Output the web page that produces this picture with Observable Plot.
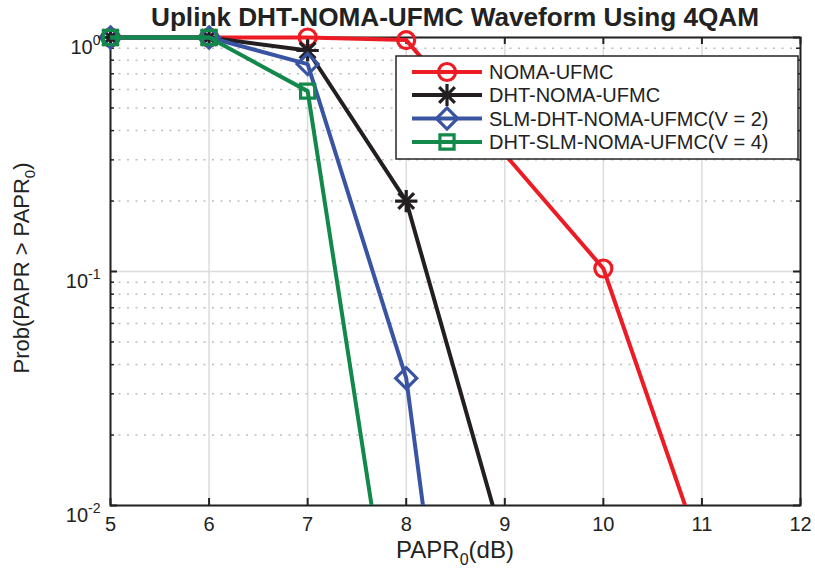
<!DOCTYPE html>
<html><head><meta charset="utf-8">
<script src="https://cdn.jsdelivr.net/npm/d3@7"></script>
<script src="https://cdn.jsdelivr.net/npm/@observablehq/plot@0.6"></script>
<style>
body{margin:0;background:#fff;}
#chart svg{font-family:"Liberation Sans",Arial,Helvetica,sans-serif;}
</style>
</head><body><div id="chart"></div>
<script>
// ---- data ----
const titleText = "Uplink DHT-NOMA-UFMC Waveform Using 4QAM";
const seriesNames = ["NOMA-UFMC","DHT-NOMA-UFMC","SLM-DHT-NOMA-UFMC(V = 2)","DHT-SLM-NOMA-UFMC(V = 4)"];
const seriesColors = ["#ed1c24","#231f20","#3a54a4","#12894a"];
const nomaUfmcX = [5,6,7,8,10,11];
const nomaUfmcY = [1,1,1,0.975,0.103,0.0062];
const dhtNomaX = [5,6,7,8,9];
const dhtNomaY = [1,1,0.88,0.2,0.0066];
const slmDhtX = [5,6,7,8,9];
const slmDhtY = [1,1,0.77,0.035,0.000022];
const dhtSlmX = [5,6,7,8];
const dhtSlmY = [1,1,0.59,0.0011];
const xTicks = [5,6,7,8,9,10,11,12];
const yTicks = [1,0.1,0.01];
const yMinor = [0.02,0.03,0.04,0.05,0.06,0.07,0.08,0.09,0.2,0.3,0.4,0.5,0.6,0.7,0.8,0.9];

// ---- layout ----
const W = 815, H = 569;
const mL = 110, mR = 15, mT = 37, mB = 64;
const fw = W - mL - mR, fh = H - mT - mB;

const series = [
  {xs: nomaUfmcX, ys: nomaUfmcY, symbols: ["circle"], r: 8.5},
  {xs: dhtNomaX, ys: dhtNomaY, symbols: ["plus","times"], r: 7.2},
  {xs: slmDhtX, ys: slmDhtY, symbols: ["diamond2"], r: 9.5},
  {xs: dhtSlmX, ys: dhtSlmY, symbols: ["square2"], r: 9}
].map((s, k) => ({...s, name: seriesNames[k], color: seriesColors[k],
  rows: s.xs.map((x, i) => ({x, y: s.ys[i]}))}));

const marks = [
  Plot.ruleX(xTicks, {x: d => d, stroke: "#dcdcdc", strokeWidth: 1.5}),
  Plot.ruleY(yMinor, {y: d => d, stroke: "#bdbdbd", strokeWidth: 1.5, strokeDasharray: "2,6.5"}),
  Plot.ruleY(yTicks, {y: d => d, stroke: "#dcdcdc", strokeWidth: 1.5}),
  Plot.frame({stroke: "#222", strokeWidth: 2}),
  Plot.tickX(xTicks, {x: d => d, insetTop: fh - 7, stroke: "#222", strokeWidth: 2}),
  Plot.tickX(xTicks, {x: d => d, insetBottom: fh - 7, stroke: "#222", strokeWidth: 2}),
  Plot.tickY(yTicks, {y: d => d, insetRight: fw - 7, stroke: "#222", strokeWidth: 2}),
  Plot.tickY(yTicks, {y: d => d, insetLeft: fw - 7, stroke: "#222", strokeWidth: 2}),
  Plot.tickY(yMinor, {y: d => d, insetRight: fw - 4, stroke: "#222", strokeWidth: 1.5}),
  Plot.tickY(yMinor, {y: d => d, insetLeft: fw - 4, stroke: "#222", strokeWidth: 1.5})
];
for (const s of series) {
  marks.push(Plot.line(s.rows, {x: "x", y: "y", stroke: s.color, strokeWidth: 4, clip: true}));
  for (const sym of s.symbols) {
    marks.push(Plot.dot(s.rows.filter(d => d.y >= 0.01), {x: "x", y: "y", symbol: sym, r: s.r,
      stroke: s.color, strokeWidth: 3.2, fill: "none"}));
  }
}
marks.push(
  Plot.axisX(xTicks, {tickSize: 0, tickPadding: 11, fontSize: 20, fill: "#222", label: null}),
  Plot.axisY(yTicks, {tickSize: 0, tickPadding: 10, fontSize: 20, fill: "#222", label: null,
    tickFormat: d => "10^" + Math.round(Math.log10(d))})
);

const chart = Plot.plot({
  width: W, height: H,
  marginLeft: mL, marginRight: mR, marginTop: mT, marginBottom: mB,
  style: {background: "#fff", overflow: "visible", fontFamily: "Liberation Sans, Arial, sans-serif"},
  x: {domain: [5, 12], label: null},
  y: {type: "log", domain: [0.01, 1], label: null},
  marks
});
document.getElementById("chart").appendChild(chart);

const svg = d3.select(chart);
// let lines at the top edge keep full width
svg.selectAll("clipPath rect").each(function() {
  const r = d3.select(this);
  r.attr("y", +r.attr("y") - 12).attr("height", +r.attr("height") + 12);
});
// superscript tick labels
svg.selectAll('g[aria-label="y-axis tick label"] text').each(function() {
  const t = d3.select(this);
  const parts = t.text().split("^");
  t.text(parts[0]).attr("dy", "0.5em");
  t.append("tspan").attr("font-size", 14).attr("dy", "-0.62em").text(parts[1]);
});
// title
svg.append("text").attr("x", 455).attr("y", 26).attr("text-anchor", "middle")
  .attr("font-size", 25).attr("font-weight", "bold").attr("fill", "#222")
  .attr("textLength", 608).attr("lengthAdjust", "spacingAndGlyphs").text(titleText);
// x label
const xl = svg.append("text").attr("x", 455).attr("y", 558).attr("text-anchor", "middle")
  .attr("font-size", 24).attr("fill", "#222");
xl.append("tspan").text("PAPR");
xl.append("tspan").attr("font-size", 16).attr("dy", 7).text("0");
xl.append("tspan").attr("dy", -7).text("(dB)");
// y label
const yl = svg.append("text").attr("transform", "translate(29,268) rotate(-90)")
  .attr("text-anchor", "middle").attr("font-size", 22).attr("fill", "#222");
yl.append("tspan").text("Prob(PAPR > PAPR");
yl.append("tspan").attr("font-size", 15).attr("dy", 6).text("0");
yl.append("tspan").attr("dy", -6).text(")");
// legend
const lg = svg.append("g");
lg.append("rect").attr("x", 396).attr("y", 56).attr("width", 402).attr("height", 103)
  .attr("fill", "#fff").attr("stroke", "#262626").attr("stroke-width", 1.5);
const symMap = {circle: d3.symbolCircle, plus: d3.symbolPlus, times: d3.symbolTimes,
  diamond2: d3.symbolDiamond2, square2: d3.symbolSquare2};
const rowY = [72, 95, 118.5, 142];
series.forEach((s, k) => {
  const y = rowY[k];
  lg.append("line").attr("x1", 412).attr("x2", 482).attr("y1", y).attr("y2", y)
    .attr("stroke", s.color).attr("stroke-width", 4);
  for (const sym of s.symbols) {
    lg.append("path").attr("transform", `translate(447,${y})`)
      .attr("d", d3.symbol(symMap[sym], Math.PI * s.r * s.r)())
      .attr("fill", "none").attr("stroke", s.color).attr("stroke-width", 3.2);
  }
  lg.append("text").attr("x", 489).attr("y", y + 7).attr("text-anchor", "start")
    .attr("font-size", 20).attr("fill", "#222").text(s.name);
});
</script>
</body></html>
